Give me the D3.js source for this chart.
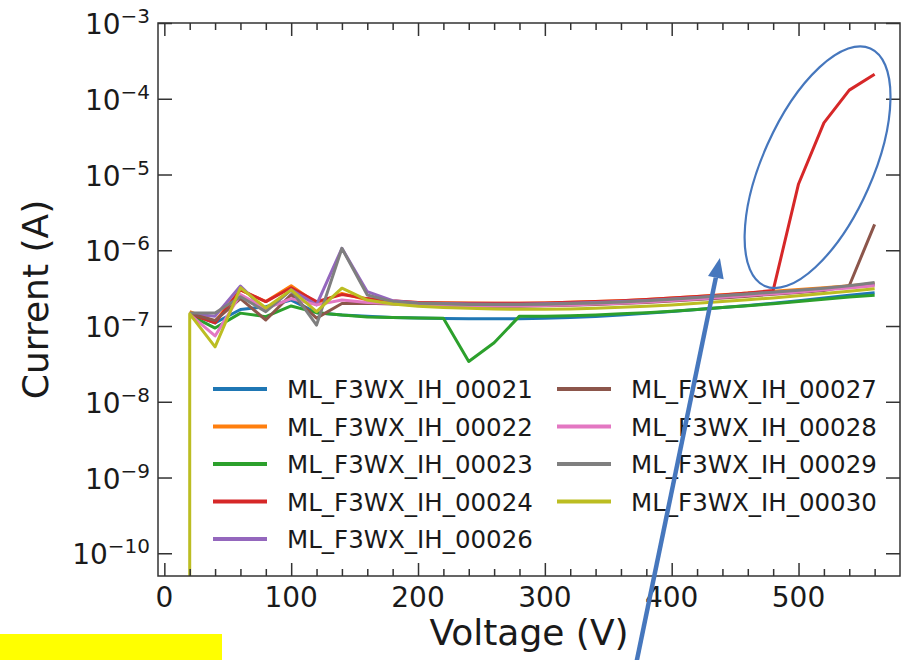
<!DOCTYPE html>
<html>
<head>
<meta charset="utf-8">
<script src="https://cdn.jsdelivr.net/npm/d3@7"></script>
<style>
  body { margin: 0; background: #fff; }
  svg { display: block; font-family: "DejaVu Sans", sans-serif; }
</style>
</head>
<body>
<div id="canvas"></div>
<script>
// voltage steps (V)
var voltage = [20,40,60,80,100,120,140,160,180,200,220,240,260,280,300,320,340,360,380,400,420,440,460,480,500,520,540,560];

// current (A) per device
var i00021 = [1.45e-7,1.1e-7,1.65e-7,1.8e-7,2.2e-7,1.5e-7,1.4e-7,1.35e-7,1.3e-7,1.28e-7,1.26e-7,1.25e-7,1.25e-7,1.25e-7,1.27e-7,1.3e-7,1.34e-7,1.4e-7,1.47e-7,1.55e-7,1.65e-7,1.75e-7,1.87e-7,2.0e-7,2.15e-7,2.35e-7,2.55e-7,2.75e-7];
var i00022 = [1.55e-7,1.15e-7,3.0e-7,2.1e-7,3.4e-7,2.0e-7,2.7e-7,2.2e-7,2.1e-7,2.05e-7,2.03e-7,2.01e-7,2.0e-7,2.0e-7,2.02e-7,2.06e-7,2.1e-7,2.16e-7,2.24e-7,2.34e-7,2.46e-7,2.58e-7,2.72e-7,2.87e-7,3.03e-7,3.2e-7,3.4e-7,3.65e-7];
var i00023 = [1.4e-7,0.94e-7,1.48e-7,1.33e-7,1.84e-7,1.5e-7,1.4e-7,1.32e-7,1.3e-7,1.28e-7,1.27e-7,0.34e-7,0.6e-7,1.35e-7,1.35e-7,1.37e-7,1.4e-7,1.45e-7,1.5e-7,1.57e-7,1.65e-7,1.75e-7,1.85e-7,1.97e-7,2.1e-7,2.25e-7,2.42e-7,2.55e-7];
var i00024 = [1.45e-7,1.1e-7,3.0e-7,2.1e-7,3.2e-7,2.1e-7,2.6e-7,2.3e-7,2.15e-7,2.05e-7,2.02e-7,2.0e-7,2.0e-7,2.0e-7,2.02e-7,2.06e-7,2.1e-7,2.16e-7,2.24e-7,2.34e-7,2.45e-7,2.57e-7,2.72e-7,2.95e-7,7.5e-6,4.8e-5,1.3e-4,2.1e-4];
var i00026 = [1.45e-7,1.35e-7,3.37e-7,1.6e-7,3.0e-7,1.9e-7,1.06e-6,2.84e-7,2.16e-7,2.02e-7,1.98e-7,1.95e-7,1.94e-7,1.94e-7,1.96e-7,2.0e-7,2.04e-7,2.1e-7,2.18e-7,2.28e-7,2.38e-7,2.5e-7,2.63e-7,2.77e-7,2.93e-7,3.1e-7,3.3e-7,3.5e-7];
var i00027 = [1.45e-7,1.18e-7,2.3e-7,1.2e-7,2.6e-7,1.27e-7,1.98e-7,2.0e-7,1.95e-7,1.9e-7,1.86e-7,1.84e-7,1.83e-7,1.83e-7,1.85e-7,1.88e-7,1.93e-7,1.98e-7,2.05e-7,2.14e-7,2.24e-7,2.35e-7,2.48e-7,2.62e-7,2.77e-7,2.95e-7,3.4e-7,2.2e-6];
var i00028 = [1.42e-7,0.74e-7,2.6e-7,1.7e-7,2.3e-7,1.9e-7,2.2e-7,2.05e-7,1.98e-7,1.92e-7,1.88e-7,1.86e-7,1.85e-7,1.85e-7,1.87e-7,1.9e-7,1.95e-7,2.0e-7,2.08e-7,2.17e-7,2.28e-7,2.4e-7,2.53e-7,2.67e-7,2.82e-7,3.0e-7,3.18e-7,3.4e-7];
var i00029 = [1.48e-7,1.48e-7,2.44e-7,1.55e-7,3.0e-7,1.03e-7,1.06e-6,2.57e-7,2.1e-7,2.0e-7,1.96e-7,1.93e-7,1.92e-7,1.92e-7,1.94e-7,1.98e-7,2.02e-7,2.08e-7,2.16e-7,2.26e-7,2.37e-7,2.5e-7,2.64e-7,2.8e-7,2.97e-7,3.16e-7,3.4e-7,3.75e-7];
// 00030 has an extra first reading at 20 V that is practically zero
var voltage30 = [20].concat(voltage);
var i00030 = [1e-12,1.45e-7,0.53e-7,3.2e-7,1.73e-7,3.0e-7,1.55e-7,3.16e-7,2.2e-7,1.95e-7,1.82e-7,1.76e-7,1.72e-7,1.68e-7,1.66e-7,1.66e-7,1.68e-7,1.72e-7,1.77e-7,1.83e-7,1.9e-7,2.0e-7,2.1e-7,2.22e-7,2.35e-7,2.5e-7,2.68e-7,2.88e-7,3.1e-7];

var names = ['ML_F3WX_IH_00021','ML_F3WX_IH_00022','ML_F3WX_IH_00023','ML_F3WX_IH_00024','ML_F3WX_IH_00026',
             'ML_F3WX_IH_00027','ML_F3WX_IH_00028','ML_F3WX_IH_00029','ML_F3WX_IH_00030'];
var colors = ['#1f77b4','#ff7f0e','#2ca02c','#d62728','#9467bd','#8c564b','#e377c2','#7f7f7f','#bcbd22'];

var xMajor = [0,100,200,300,400,500];
var xMinor = d3.range(20, 580, 20).filter(function(v){ return v % 100 !== 0; });
var yExps = [-10,-9,-8,-7,-6,-5,-4,-3];

// annotation anchors in data units
var circleAt = {v:515, i:1.25e-5};
var arrowTip = {v:438, i:7.9e-7};
var arrowTail = {v:372, i:3.5e-12};

var m = {t:23, r:7, b:84, l:158};
var outerWidth = 907, outerHeight = 660;
var w = outerWidth - m.l - m.r,
    h = outerHeight - m.t - m.b;

var svg = d3.select('#canvas')
    .append('svg')
    .attr('width', outerWidth)
    .attr('height', outerHeight);

var plot = svg.append('g')
    .attr('transform', 'translate(' + m.l + ',' + m.t + ')');

var scaleX = d3.scaleLinear().domain([-5, 580]).range([0, w]);
var scaleY = d3.scaleLog().domain([Math.pow(10, -10.3), 1e-3]).range([h, 0]);

plot.append('clipPath').attr('id', 'clip')
  .append('rect').attr('width', w).attr('height', h);

var series = [
  {v: voltage, i: i00021}, {v: voltage, i: i00022}, {v: voltage, i: i00023},
  {v: voltage, i: i00024}, {v: voltage, i: i00026}, {v: voltage, i: i00027},
  {v: voltage, i: i00028}, {v: voltage, i: i00029}, {v: voltage30, i: i00030}
];

var line = d3.line()
    .x(function(d){ return scaleX(d[0]); })
    .y(function(d){ return scaleY(d[1]); });

plot.append('g').attr('clip-path', 'url(#clip)')
  .selectAll('path')
  .data(series)
  .enter()
  .append('path')
  .attr('fill', 'none')
  .attr('stroke', function(d, k){ return colors[k]; })
  .attr('stroke-width', 3)
  .attr('stroke-linejoin', 'round')
  .attr('d', function(d){ return line(d.v.map(function(v, j){ return [v, d.i[j]]; })); });

// ticks, all pointing inward
function tickAxis(axis, sel){
  sel.call(axis);
  sel.select('.domain').remove();
  sel.selectAll('line').attr('stroke', '#333').attr('stroke-width', 1.5);
  sel.selectAll('text').remove();
}
var tickVals = yExps.map(function(e){ return Math.pow(10, e); });
plot.append('g').attr('transform', 'translate(0,' + h + ')')
  .call(tickAxis.bind(null, d3.axisBottom(scaleX).tickValues(xMajor).tickSize(-13)));
plot.append('g').attr('transform', 'translate(0,' + h + ')')
  .call(tickAxis.bind(null, d3.axisBottom(scaleX).tickValues(xMinor).tickSize(-7)));
plot.append('g')
  .call(tickAxis.bind(null, d3.axisTop(scaleX).tickValues(xMajor).tickSize(-13)));
plot.append('g')
  .call(tickAxis.bind(null, d3.axisTop(scaleX).tickValues(xMinor).tickSize(-7)));
plot.append('g')
  .call(tickAxis.bind(null, d3.axisLeft(scaleY).tickValues(tickVals).tickSize(-14)));
plot.append('g').attr('transform', 'translate(' + w + ',0)')
  .call(tickAxis.bind(null, d3.axisRight(scaleY).tickValues(tickVals).tickSize(-14)));

plot.append('rect')
  .attr('width', w).attr('height', h)
  .attr('fill', 'none').attr('stroke', '#333').attr('stroke-width', 1.5);

// tick labels
plot.selectAll('.xlab').data(xMajor).enter()
  .append('text').attr('class', 'xlab')
  .attr('x', function(d){ return scaleX(d); })
  .attr('y', h + 31)
  .attr('text-anchor', 'middle')
  .attr('font-size', 28)
  .attr('fill', '#1a1a1a')
  .text(function(d){ return d; });

var ylab = plot.selectAll('.ylab').data(yExps).enter()
  .append('text').attr('class', 'ylab')
  .attr('x', -8)
  .attr('y', function(d){ return scaleY(Math.pow(10, d)) + 11; })
  .attr('text-anchor', 'end')
  .attr('fill', '#1a1a1a');
ylab.append('tspan').attr('font-size', 28).text('10');
ylab.append('tspan').attr('font-size', 20).attr('dy', -11)
  .text(function(d){ return '\u2212' + Math.abs(d); });

// axis titles
svg.append('text')
  .attr('x', m.l + w / 2).attr('y', 645)
  .attr('text-anchor', 'middle').attr('font-size', 36).attr('fill', '#1a1a1a')
  .text('Voltage (V)');
svg.append('text')
  .attr('transform', 'translate(48,' + (m.t + h / 2) + ') rotate(-90)')
  .attr('text-anchor', 'middle').attr('font-size', 36).attr('fill', '#1a1a1a')
  .text('Current (A)');

// legend, two columns without frame
var legend = plot.selectAll('.legend').data(names).enter()
  .append('g').attr('class', 'legend')
  .attr('transform', function(d, k){
    var col = k < 5 ? 0 : 1, row = k < 5 ? k : k - 5;
    return 'translate(' + (55 + col * 344) + ',' + (366 + row * 37.5) + ')';
  });
legend.append('line')
  .attr('x1', 0).attr('x2', 54)
  .attr('stroke', function(d, k){ return colors[k]; })
  .attr('stroke-width', 4);
legend.append('text')
  .attr('x', 74).attr('y', 9)
  .attr('font-size', 24.5).attr('fill', '#1a1a1a')
  .text(function(d){ return d; });

// blue callout: ellipse round the breakdown and an arrow
var blue = '#4677bd';
plot.append('ellipse')
  .attr('cx', scaleX(circleAt.v)).attr('cy', scaleY(circleAt.i))
  .attr('rx', 130).attr('ry', 55)
  .attr('transform', 'rotate(-66,' + scaleX(circleAt.v) + ',' + scaleY(circleAt.i) + ')')
  .attr('fill', 'none').attr('stroke', blue).attr('stroke-width', 2.2);

var tx = scaleX(arrowTip.v), ty = scaleY(arrowTip.i),
    sx = scaleX(arrowTail.v), sy = scaleY(arrowTail.i);
var ang = Math.atan2(ty - sy, tx - sx);
var hl = 20, hw = 8;
var bx = tx - hl * Math.cos(ang), by = ty - hl * Math.sin(ang);
svg.append('g').attr('transform', 'translate(' + m.l + ',' + m.t + ')')
  .call(function(g){
    g.append('line')
      .attr('x1', sx).attr('y1', sy).attr('x2', bx).attr('y2', by)
      .attr('stroke', blue).attr('stroke-width', 4.5);
    g.append('polygon')
      .attr('points', [
        [tx, ty],
        [bx + hw * Math.sin(ang), by - hw * Math.cos(ang)],
        [bx - hw * Math.sin(ang), by + hw * Math.cos(ang)]
      ].map(function(p){ return p.join(','); }).join(' '))
      .attr('fill', blue);
  });

// yellow highlight strip at the bottom-left
svg.append('rect')
  .attr('x', 0).attr('y', 634).attr('width', 222).attr('height', 26)
  .attr('fill', '#ffff00');
</script>
</body>
</html>
